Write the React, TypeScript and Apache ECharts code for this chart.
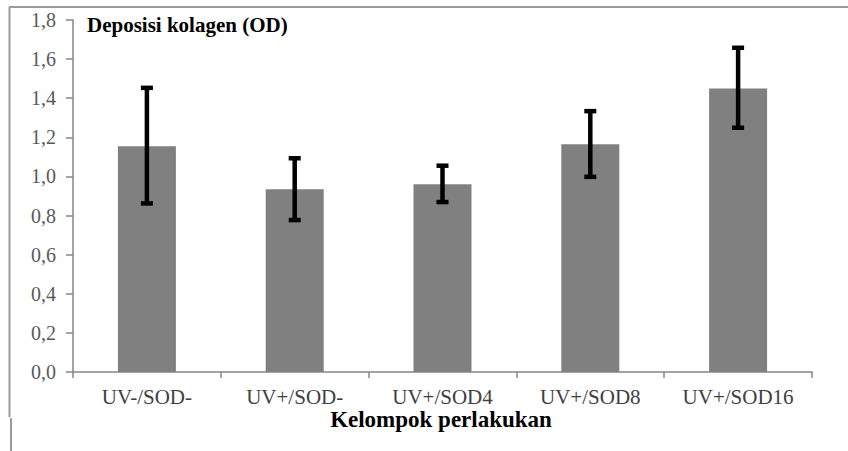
import React, { useEffect, useRef } from "react";
import * as echarts from "echarts";

const categories = ["UV-/SOD-", "UV+/SOD-", "UV+/SOD4", "UV+/SOD8", "UV+/SOD16"];
const means = [1.155, 0.934, 0.96, 1.164, 1.45];
const errLow = [0.862, 0.777, 0.869, 0.998, 1.249];
const errHigh = [1.453, 1.093, 1.055, 1.334, 1.658];
const yTicks = { min: 0, max: 1.8, interval: 0.2 };

const FONT = "Liberation Serif";

export default function App() {
  const ref = useRef<HTMLDivElement>(null);
  useEffect(() => {
    if (!ref.current) return;
    const chart = echarts.init(ref.current, null, { renderer: "svg" });
    const errData = categories.map((_, i) => [i, errLow[i], errHigh[i]]);
    chart.setOption({
      animation: false,
      backgroundColor: "#ffffff",
      textStyle: { fontFamily: FONT },
      grid: { left: 73, right: 36, top: 20, bottom: 79, containLabel: false },
      xAxis: {
        type: "category",
        data: categories,
        axisLine: { lineStyle: { color: "#868686", width: 1.5 } },
        axisTick: { show: true, length: 6, lineStyle: { color: "#868686", width: 1.5 } },
        axisLabel: {
          color: "#404040",
          fontFamily: FONT,
          fontSize: 21,
          margin: 14,
        },
      },
      yAxis: {
        type: "value",
        min: yTicks.min,
        max: yTicks.max,
        interval: yTicks.interval,
        splitLine: { show: false },
        axisLine: { show: true, lineStyle: { color: "#868686", width: 1.5 } },
        axisTick: { show: true, length: 7, lineStyle: { color: "#868686", width: 1.5 } },
        axisLabel: {
          color: "#595959",
          fontFamily: FONT,
          fontSize: 20,
          margin: 17,
          formatter: (v: number) => v.toFixed(1).replace(".", ","),
        },
      },
      series: [
        {
          type: "bar",
          data: means,
          barWidth: 58,
          itemStyle: { color: "#808080" },
        },
        {
          type: "custom",
          data: errData,
          z: 10,
          renderItem: (params: any, api: any) => {
            const x = api.value(0);
            const lo = api.coord([x, api.value(1)]);
            const hi = api.coord([x, api.value(2)]);
            const cap = 6;
            const style = { stroke: "#000000", lineWidth: 4.5 };
            return {
              type: "group",
              children: [
                { type: "line", shape: { x1: lo[0], y1: lo[1], x2: hi[0], y2: hi[1] }, style },
                { type: "line", shape: { x1: lo[0] - cap, y1: lo[1], x2: lo[0] + cap, y2: lo[1] }, style },
                { type: "line", shape: { x1: hi[0] - cap, y1: hi[1], x2: hi[0] + cap, y2: hi[1] }, style },
              ],
            };
          },
        },
      ],
      graphic: [
        { type: "line", shape: { x1: 9, y1: 7, x2: 848, y2: 7 }, style: { stroke: "#9a9a9a", lineWidth: 2 } },
        { type: "line", shape: { x1: 9.5, y1: 7, x2: 9.5, y2: 417 }, style: { stroke: "#9a9a9a", lineWidth: 2 } },
        { type: "line", shape: { x1: 11, y1: 418, x2: 11, y2: 451 }, style: { stroke: "#9a9a9a", lineWidth: 2 } },
        {
          type: "text",
          x: 87,
          y: 25,
          style: {
            text: "Deposisi kolagen (OD)",
            fontFamily: FONT,
            fontWeight: "bold",
            fontSize: 21,
            fill: "#000000",
            verticalAlign: "middle",
          },
        },
        {
          type: "text",
          x: 441,
          y: 419,
          style: {
            text: "Kelompok perlakukan",
            fontFamily: FONT,
            fontWeight: "bold",
            fontSize: 23,
            fill: "#000000",
            align: "center",
            verticalAlign: "middle",
          },
        },
      ],
    });
    return () => chart.dispose();
  }, []);
  return <div ref={ref} style={{ width: 848, height: 451, position: "absolute", left: 0, top: 0 }} />;
}
